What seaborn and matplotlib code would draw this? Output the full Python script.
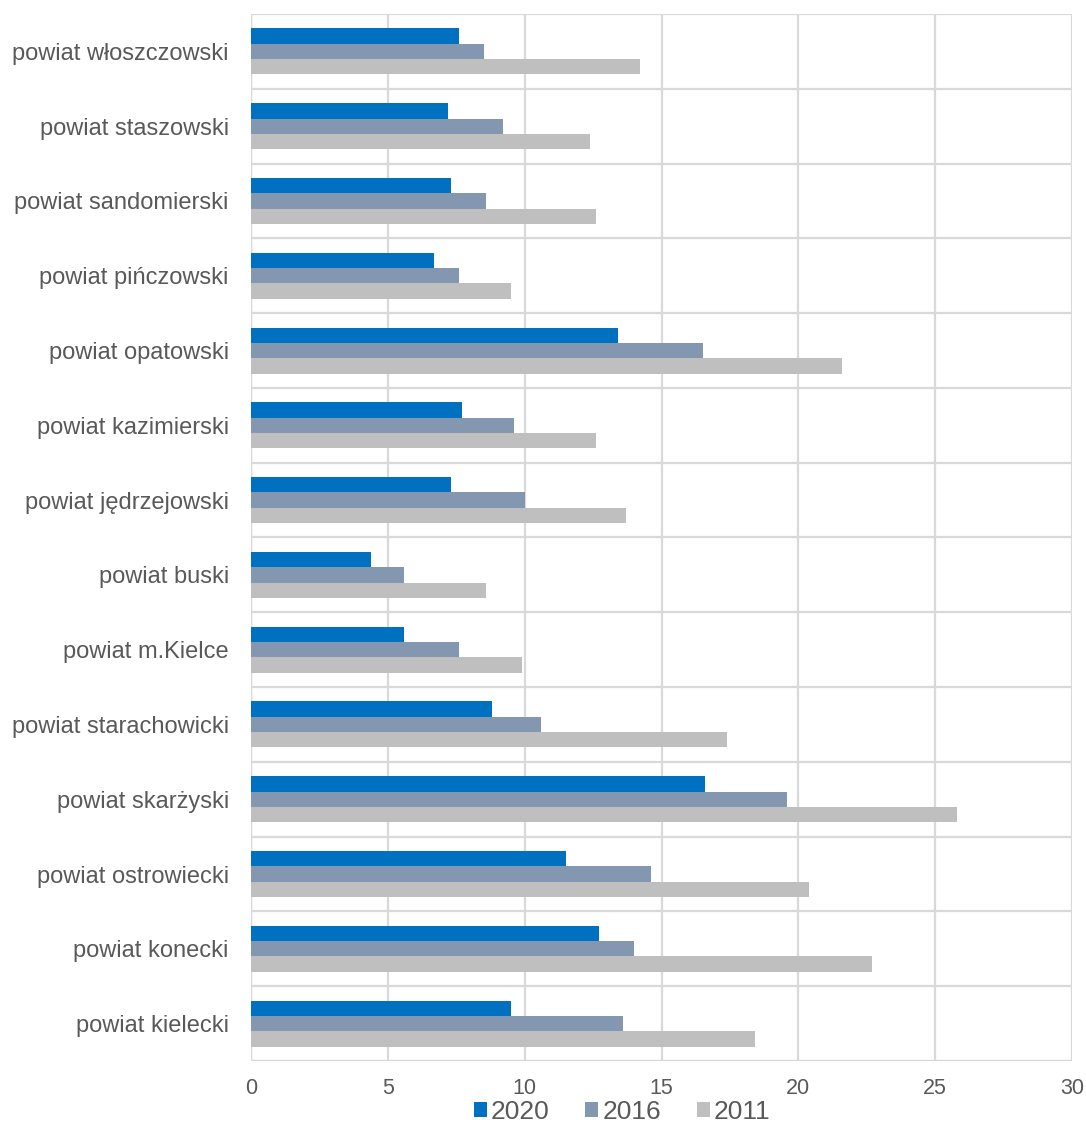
import matplotlib
matplotlib.use("Agg")
import matplotlib.pyplot as plt
from matplotlib.patches import Patch
import numpy as np
import pandas as pd
import seaborn as sns

# Powiaty, listed top to bottom as drawn
powiaty = [
    "powiat włoszczowski", "powiat staszowski", "powiat sandomierski",
    "powiat pińczowski", "powiat opatowski", "powiat kazimierski",
    "powiat jędrzejowski", "powiat buski", "powiat m.Kielce",
    "powiat starachowicki", "powiat skarżyski", "powiat ostrowiecki",
    "powiat konecki", "powiat kielecki",
]
lata = ["2020", "2016", "2011"]
v2020 = [7.6, 7.2, 7.3, 6.7, 13.4, 7.7, 7.3, 4.4, 5.6, 8.8, 16.6, 11.5, 12.7, 9.5]
v2016 = [8.5, 9.2, 8.6, 7.6, 16.5, 9.6, 10.0, 5.6, 7.6, 10.6, 19.6, 14.6, 14.0, 13.6]
v2011 = [14.2, 12.4, 12.6, 9.5, 21.6, 12.6, 13.7, 8.6, 9.9, 17.4, 25.8, 20.4, 22.7, 18.4]
x_ticks = [0, 5, 10, 15, 20, 25, 30]

kolory = {"2020": "#0070C0", "2016": "#8497B0", "2011": "#BFBFBF"}
tekst = "#595959"
siatka = "#D9D9D9"

df = pd.DataFrame({
    "powiat": powiaty * 3,
    "rok": [lata[0]] * len(powiaty) + [lata[1]] * len(powiaty) + [lata[2]] * len(powiaty),
    "wartosc": v2020 + v2016 + v2011,
})

sns.set_theme(style="white")
plt.rcParams["font.family"] = ["Liberation Sans", "DejaVu Sans"]

fig = plt.figure(figsize=(10.86, 11.24), dpi=100)
ax = fig.add_axes([251 / 1086, 1 - 1061 / 1124, (1072 - 251) / 1086, (1061 - 14) / 1124])

sns.barplot(
    data=df, y="powiat", x="wartosc", hue="rok",
    order=powiaty, hue_order=lata, palette=kolory,
    orient="h", width=0.615, linewidth=0, saturation=1,
    errorbar=None, legend=False, ax=ax,
)

ax.set_xlim(0, 30)
ax.set_ylim(len(powiaty) - 0.5, -0.5)
ax.set_xticks(x_ticks)
ax.set_xticklabels([str(t) for t in x_ticks], fontsize=15.5)
ax.set_yticks(np.arange(len(powiaty)))
ax.set_yticklabels(powiaty, fontsize=17)
ax.set_yticks(np.arange(len(powiaty) + 1) - 0.5, minor=True)

ax.grid(False)
ax.set_axisbelow(True)
ax.xaxis.grid(True, color=siatka, linewidth=1.6)
ax.yaxis.grid(True, which="minor", color=siatka, linewidth=1.6)
for s in ax.spines.values():
    s.set_visible(False)
ax.axvline(0, color="#BFBFBF", linewidth=1.6, zorder=0.5)
ax.axhline(len(powiaty) - 0.5, color=siatka, linewidth=1.6, zorder=0.5)

ax.tick_params(axis="both", which="both", length=0, labelcolor=tekst)
ax.tick_params(axis="x", pad=12)
ax.tick_params(axis="y", pad=16)
ax.set_xlabel("")
ax.set_ylabel("")

uchwyty = [Patch(facecolor=kolory[r], edgecolor="none", label=r) for r in lata]
fig.legend(
    handles=uchwyty, loc="center", bbox_to_anchor=(622 / 1086, 1 - 1112 / 1124),
    ncol=3, frameon=False, fontsize=19, labelcolor=tekst,
    handlelength=0.5, handleheight=0.5, handletextpad=0.15, columnspacing=1.35,
    borderpad=0.1,
)

fig.savefig("out.png", dpi=100)
